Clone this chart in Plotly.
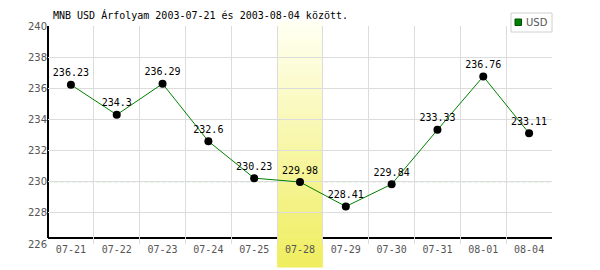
import plotly.graph_objects as go

dates = ["07-21", "07-22", "07-23", "07-24", "07-25", "07-28", "07-29", "07-30", "07-31", "08-01", "08-04"]
usd = [236.23, 234.3, 236.29, 232.6, 230.23, 229.98, 228.41, 229.84, 233.33, 236.76, 233.11]
label_text = ["236.23", "234.3", "236.29", "232.6", "230.23", "229.98", "228.41", "229.84", "233.33", "236.76", "233.11"]
y_ticks = [226, 228, 230, 232, 234, 236, 238, 240]
ref_level = 230
highlight_date = "07-28"
title_text = "MNB USD Árfolyam 2003-07-21 és 2003-08-04 között."
series_name = "USD"

MONO = "DejaVu Sans Mono"
W, H = 600, 270
L, R, T, B = 48, 48, 26, 26
ph = H - T - B
pw = W - L - R

fig = go.Figure()
fig.add_trace(go.Scatter(
    x=dates, y=usd, mode="lines+markers+text", text=label_text,
    textposition="top center", textfont=dict(family=MONO, size=10, color="#000"),
    line=dict(color="#008000", width=1),
    marker=dict(color="#000", size=8), showlegend=False, cliponaxis=False,
))

shapes = []
# black axis lines (x axis line sits slightly above the 226 gridline)
axis_y = y_ticks[0] + 6 * (y_ticks[-1] - y_ticks[0]) / ph
shapes.append(dict(type="line", xref="paper", yref="y", x0=0, x1=0, y0=axis_y, y1=y_ticks[-1],
                   line=dict(color="#000", width=2), layer="between"))
shapes.append(dict(type="line", xref="paper", yref="y", x0=0, x1=1, y0=axis_y, y1=axis_y,
                   line=dict(color="#000", width=2), layer="between"))
# dashed reference line
shapes.append(dict(type="line", xref="paper", yref="y", x0=0, x1=1, y0=ref_level, y1=ref_level,
                   line=dict(color="#94cc94", width=1, dash="4px,2px"), layer="between"))

# gradient highlight band
hi = dates.index(highlight_date)
top_px, bot_px = 21, 267
n = 40
c0 = (255, 255, 242)
c1 = (240, 238, 96)
for k in range(n):
    f = k / (n - 1)
    col = "rgb(%d,%d,%d)" % tuple(round(a + (b - a) * f) for a, b in zip(c0, c1))
    y0p = top_px + (bot_px - top_px) * k / n
    y1p = top_px + (bot_px - top_px) * (k + 1) / n + 0.6
    shapes.append(dict(type="rect", xref="x", yref="paper", x0=hi - 0.5, x1=hi + 0.5,
                       y0=1 - (y1p - T) / ph, y1=1 - (y0p - T) / ph,
                       fillcolor=col, line=dict(width=0), layer="between"))

# legend box
lx0, lx1, ly0, ly1 = 511, 552, 13, 32
shapes.append(dict(type="rect", xref="paper", yref="paper",
                   x0=(lx0 - L) / pw, x1=(lx1 - L) / pw,
                   y0=1 - (ly1 - T) / ph, y1=1 - (ly0 - T) / ph,
                   fillcolor="#fff", line=dict(color="#d0d0d0", width=1), layer="above"))
shapes.append(dict(type="rect", xref="paper", yref="paper",
                   x0=(515 - L) / pw, x1=(521.5 - L) / pw,
                   y0=1 - (25.5 - T) / ph, y1=1 - (19 - T) / ph,
                   fillcolor="#008000", line=dict(color="#005000", width=1), layer="above"))

fig.update_layout(
    width=W, height=H, autosize=False,
    margin=dict(l=L, r=R, t=T, b=B, pad=0),
    paper_bgcolor="#fff", plot_bgcolor="rgba(0,0,0,0)",
    showlegend=False,
    title=dict(text=title_text, x=53 / W, xref="container", xanchor="left",
               y=1 - 15 / H, yref="container", yanchor="middle",
               font=dict(family=MONO, size=10, color="#000")),
    annotations=[dict(text=series_name, xref="paper", yref="paper",
                      x=(524 - L) / pw, y=1 - (22.5 - T) / ph, xanchor="left", yanchor="middle",
                      showarrow=False, font=dict(family="DejaVu Sans", size=10, color="#555"))],
    shapes=shapes,
    xaxis=dict(type="category", categoryorder="array", categoryarray=dates,
               range=[-0.5, len(dates) - 0.5], tickson="boundaries", showgrid=True,
               gridcolor="#dcdcdc", gridwidth=1, ticks="", showline=False, zeroline=False,
               ticklabelstandoff=-2,
               tickfont=dict(family=MONO, size=10, color="#555"), fixedrange=True),
    yaxis=dict(range=[y_ticks[0], y_ticks[-1]], tickvals=y_ticks, showgrid=True,
               gridcolor="#dcdcdc", gridwidth=1, ticks="", showline=False, zeroline=False,
               tickfont=dict(family="DejaVu Sans", size=10, color="#555"), fixedrange=True),
)

fig.write_html("out.html")
